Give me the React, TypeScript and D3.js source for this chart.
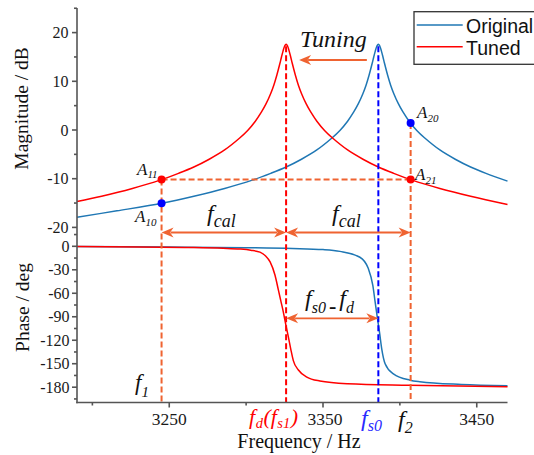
import React from "react";
import * as d3 from "d3";

// ---------- data ----------
const tunedMagFreq = [3190,3206,3226,3244,3256,3266,3276,3286,3296,3301,3306,3310,3313,3316,3318,3320,3322,3323,3324,3325,3326,3327,3328,3329,3330,3332,3334,3336,3339,3342,3346,3351,3356,3366,3376,3386,3396,3408,3426,3446,3470];
const tunedMagDb = [-14.7,-13.6,-12.0,-10.3,-8.9,-7.6,-6.0,-4.1,-1.6,-0.1,1.8,3.7,5.4,7.5,9.2,11.3,13.7,15.0,16.2,17.2,17.6,17.2,16.2,15.0,13.7,11.3,9.2,7.5,5.4,3.7,1.8,-0.1,-1.6,-4.1,-6.0,-7.6,-8.9,-10.3,-12.0,-13.6,-15.3];

const originalMagFreq = [3190,3216,3246,3266,3286,3304,3316,3326,3336,3346,3356,3361,3366,3370,3373,3376,3378,3380,3382,3383,3384,3385,3386,3387,3388,3389,3390,3392,3394,3396,3399,3402,3406,3411,3416,3426,3436,3446,3456,3470];
const originalMagDb = [-17.9,-16.6,-15.0,-13.6,-12.0,-10.3,-8.9,-7.6,-6.0,-4.1,-1.6,-0.1,1.8,3.7,5.4,7.5,9.2,11.3,13.7,15.0,16.2,17.2,17.6,17.2,16.2,15.0,13.7,11.3,9.2,7.5,5.4,3.7,1.8,-0.1,-1.6,-4.1,-6.0,-7.6,-8.9,-10.5];

const tunedPhaseFreq = [3190,3230,3260,3285,3296,3303,3309,3312.5,3315.6,3318.8,3321,3322.6,3324.2,3325.8,3327.5,3329.1,3330.7,3334,3339.5,3348,3366,3406,3470];
const tunedPhaseDeg = [-0.3,-0.8,-1.5,-2.5,-3.5,-5,-7.5,-12,-20,-37,-56,-70,-84,-100,-116,-132,-146,-158,-167,-172,-175.5,-177.5,-179.5];

const originalPhaseFreq = [3190,3250,3300,3330,3350,3361,3374,3379.5,3382.4,3383.9,3385.4,3386.7,3388.2,3390.4,3395.8,3406.6,3413,3440,3470];
const originalPhaseDeg = [-0.4,-1.0,-1.8,-2.8,-4.2,-6.5,-14,-28.5,-50,-71,-92,-109,-131,-150,-163,-171,-173,-176.5,-178];

const magTicks = [20, 10, 0, -10, -20];
const magMinor = [25, 15, 5, -5, -15];
const phaseTicks = [0, -30, -60, -90, -120, -150, -180];
const phaseMinor = [15, -15, -45, -75, -105, -135, -165, -195];
const freqTicks = [3250, 3350, 3450];
const freqMinor = [3200, 3300, 3400];

// key frequencies: f1, fd (=fs1), fs0, f2
const keyFreq = [3245, 3326, 3386, 3407];

const BLUE = "#1f77b4";
const RED = "#ff0000";
const ORANGE = "#ef6331";
const SERIF = "Liberation Serif, DejaVu Serif, serif";
const SANS = "Liberation Sans, Arial, sans-serif";

function interp(fs: number[], vs: number[], f: number) {
  const i = d3.bisectLeft(fs, f);
  if (i <= 0) return vs[0];
  if (i >= fs.length) return vs[vs.length - 1];
  const t = (f - fs[i - 1]) / (fs[i] - fs[i - 1]);
  return vs[i - 1] + t * (vs[i] - vs[i - 1]);
}

function head(x: number, y: number, dir: number) {
  const L = 12, w = 5, n = 8.5;
  return `M${x},${y}L${x - dir * L},${y - w}L${x - dir * n},${y}L${x - dir * L},${y + w}Z`;
}

function Arrow({ x1, x2, y, both = true }: { x1: number; x2: number; y: number; both?: boolean }) {
  const dir = x2 > x1 ? 1 : -1;
  return (
    <g fill={ORANGE} stroke="none">
      <line x1={both ? x1 + dir * 9 : x1} x2={x2 - dir * 9} y1={y} y2={y} stroke={ORANGE} strokeWidth={1.8} />
      <path d={head(x2, y, dir)} />
      {both && <path d={head(x1, y, -dir)} />}
    </g>
  );
}

const serifStyle = { fontFamily: SERIF };

function SubLabel({ x, y, main, sub, size = 24, subSize = 16, dy = 6, color = "#111" }: any) {
  return (
    <text x={x} y={y} style={serifStyle} fontStyle="italic" fontSize={size} fill={color}>
      {main}
      <tspan fontSize={subSize} dy={dy}>{sub}</tspan>
    </text>
  );
}

export default function App() {
  const x = d3.scaleLinear().domain([3190, 3470]).range([77, 507.5]);
  const yMag = d3.scaleLinear().domain([0, 20]).range([130, 32.6]);
  const yPh = d3.scaleLinear().domain([0, -180]).range([246.3, 387.2]);
  const axisBottom = 402.5;
  const axisLeft = 77;
  const axisTop = 8;

  const magLine = d3.line<[number, number]>().x((d) => x(d[0])).y((d) => yMag(d[1])).curve(d3.curveCatmullRom.alpha(0.5));
  const phLine = d3.line<[number, number]>().x((d) => x(d[0])).y((d) => yPh(d[1])).curve(d3.curveMonotoneX);

  const zip = (a: number[], b: number[]) => a.map((v, i) => [v, b[i]] as [number, number]);

  const [f1, fd, fs0, f2] = keyFreq;
  const A11 = interp(tunedMagFreq, tunedMagDb, f1);
  const A10 = interp(originalMagFreq, originalMagDb, f1);
  const A20 = interp(originalMagFreq, originalMagDb, f2);
  const A21 = interp(tunedMagFreq, tunedMagDb, f2);
  const peakT = d3.max(tunedMagDb)!;
  const peakO = d3.max(originalMagDb)!;

  const axisColor = "#555";
  const tickText = "#1a1a1a";

  return (
    <svg width={534} height={455} style={{ position: "absolute", left: 0, top: 0, background: "#fff" }}>
      {/* curves */}
      <path d={magLine(zip(originalMagFreq, originalMagDb))!} fill="none" stroke={BLUE} strokeWidth={1.5} />
      <path d={magLine(zip(tunedMagFreq, tunedMagDb))!} fill="none" stroke={RED} strokeWidth={1.5} />
      <path d={phLine(zip(originalPhaseFreq, originalPhaseDeg))!} fill="none" stroke={BLUE} strokeWidth={1.5} />
      <path d={phLine(zip(tunedPhaseFreq, tunedPhaseDeg))!} fill="none" stroke={RED} strokeWidth={1.5} />

      {/* dashed guides */}
      <g strokeWidth={2} strokeDasharray="6,3" fill="none">
        <line x1={x(f1)} x2={x(f2)} y1={yMag(A11)} y2={yMag(A11)} stroke={ORANGE} />
        <line x1={x(f1)} x2={x(f1)} y1={yMag(A11)} y2={axisBottom} stroke={ORANGE} />
        <line x1={x(f2)} x2={x(f2)} y1={yMag(A20)} y2={axisBottom} stroke={ORANGE} />
        <line x1={x(fd)} x2={x(fd)} y1={yMag(peakT) + 2} y2={axisBottom} stroke={RED} />
        <line x1={x(fs0)} x2={x(fs0)} y1={yMag(peakO) + 2} y2={axisBottom} stroke="#0000ff" />
      </g>

      {/* arrows */}
      <Arrow x1={x(f1)} x2={x(fd)} y={232.5} />
      <Arrow x1={x(fd)} x2={x(f2)} y={232.5} />
      <Arrow x1={x(fd)} x2={x(fs0)} y={318.3} />
      <Arrow x1={x(fs0) - 11.5} x2={x(fd) + 13} y={60} both={false} />

      {/* markers */}
      <circle cx={x(f1)} cy={yMag(A11)} r={4} fill={RED} />
      <circle cx={x(f1)} cy={yMag(A10)} r={4} fill="#0000ff" />
      <circle cx={x(f2)} cy={yMag(A20)} r={4} fill="#0000ff" />
      <circle cx={x(f2)} cy={yMag(A21)} r={4} fill={RED} />

      {/* axes */}
      <g stroke={axisColor} strokeWidth={1.6}>
        <line x1={axisLeft} x2={axisLeft} y1={axisTop} y2={axisBottom + 0.8} />
        <line x1={axisLeft - 0.8} x2={507.5} y1={axisBottom} y2={axisBottom} />
        {magTicks.map((t) => <line key={"mt" + t} x1={axisLeft - 5} x2={axisLeft} y1={yMag(t)} y2={yMag(t)} />)}
        {magMinor.map((t) => <line key={"mm" + t} x1={axisLeft - 3} x2={axisLeft} y1={yMag(t)} y2={yMag(t)} />)}
        {phaseTicks.map((t) => <line key={"pt" + t} x1={axisLeft - 5} x2={axisLeft} y1={yPh(t)} y2={yPh(t)} />)}
        {phaseMinor.map((t) => <line key={"pm" + t} x1={axisLeft - 3} x2={axisLeft} y1={yPh(t)} y2={yPh(t)} />)}
        {freqTicks.map((t) => <line key={"ft" + t} x1={x(t)} x2={x(t)} y1={axisBottom} y2={axisBottom + 5} />)}
        {freqMinor.map((t) => <line key={"fm" + t} x1={x(t)} x2={x(t)} y1={axisBottom} y2={axisBottom + 3} />)}
      </g>
      <g style={serifStyle} fontSize={16} fill={tickText} textAnchor="end">
        {magTicks.map((t) => <text key={"ml" + t} x={68.5} y={yMag(t)} dy="0.35em">{t}</text>)}
        {phaseTicks.map((t) => <text key={"pl" + t} x={69.5} y={yPh(t)} dy="0.35em">{t}</text>)}
      </g>
      <g style={serifStyle} fontSize={17.5} fill={tickText} textAnchor="middle">
        {freqTicks.map((t) => <text key={"fl" + t} x={x(t) + (t === 3350 ? 2 : 0)} y={425}>{t}</text>)}
      </g>

      {/* axis titles */}
      <text transform="translate(28,108.5) rotate(-90)" textAnchor="middle" style={serifStyle} fontSize={19.5} fill="#111">Magnitude / dB</text>
      <text transform="translate(29,307.5) rotate(-90)" textAnchor="middle" style={serifStyle} fontSize={19.5} fill="#111">Phase / deg</text>
      <text x={299} y={448} textAnchor="middle" style={serifStyle} fontSize={20} fill="#111">Frequency / Hz</text>

      {/* annotations */}
      <text x={300} y={47} style={serifStyle} fontStyle="italic" fontSize={24} fill="#111">Tuning</text>
      <SubLabel x={137} y={175} main="A" sub="11" size={17} subSize={11} dy={3} />
      <SubLabel x={135} y={222} main="A" sub="10" size={17} subSize={11} dy={4} />
      <SubLabel x={417} y={118} main="A" sub="20" size={17} subSize={11} dy={4} />
      <SubLabel x={415} y={180} main="A" sub="21" size={17} subSize={11} dy={4} />
      <SubLabel x={207} y={221} main="f" sub="cal" size={24} subSize={18} dy={6} />
      <SubLabel x={332} y={221} main="f" sub="cal" size={24} subSize={18} dy={6} />
      <text x={305} y={306} style={serifStyle} fontStyle="italic" fontSize={24} fill="#111">
        f<tspan fontSize={16} dy={7}>s0</tspan>
        <tspan fontSize={22} fontStyle="normal" fontWeight="bold" dx={3}>-</tspan>
        <tspan dx={3} dy={-7}>f</tspan>
        <tspan fontSize={16} dy={7}>d</tspan>
      </text>
      <SubLabel x={135} y={390} main="f" sub="1" size={23} subSize={15} dy={7} />
      <text x={249} y={424} style={serifStyle} fontStyle="italic" fontSize={22} fill={RED}>
        f<tspan fontSize={14.5} dy={4} dx={0.5}>d</tspan>
        <tspan dy={-4} dx={0.5}>(f</tspan>
        <tspan fontSize={14.5} dy={4} dx={0.5}>s1</tspan>
        <tspan dy={-4} dx={0.5}>)</tspan>
      </text>
      <SubLabel x={361} y={426} main="f" sub="s0" size={24} subSize={16} dy={5} color="#2a2aff" />
      <SubLabel x={398} y={427} main="f" sub="2" size={24} subSize={16} dy={6} />

      {/* legend */}
      <rect x={414} y={11.7} width={130} height={52.6} fill="#fff" stroke="#333" strokeWidth={1.3} />
      <line x1={416.7} x2={462.7} y1={25} y2={25} stroke={BLUE} strokeWidth={1.5} />
      <line x1={416.7} x2={462.7} y1={46.7} y2={46.7} stroke={RED} strokeWidth={1.5} />
      <text x={466} y={32.5} style={{ fontFamily: SANS }} fontSize={19.5} fill="#111">Original</text>
      <text x={466} y={54.5} style={{ fontFamily: SANS }} fontSize={19.5} fill="#111">Tuned</text>
    </svg>
  );
}
